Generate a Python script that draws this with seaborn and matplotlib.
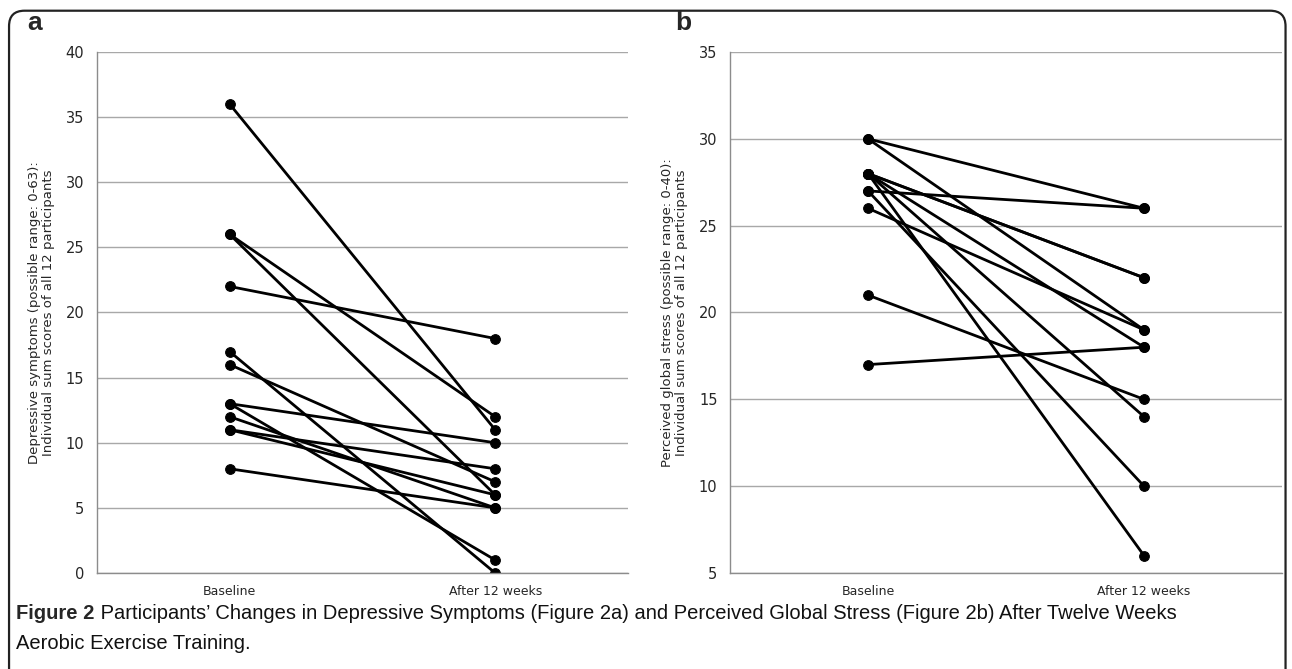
import pandas as pd
import numpy as np
import matplotlib
matplotlib.use("Agg")
import matplotlib.pyplot as plt
from matplotlib.patches import FancyBboxPatch
import seaborn as sns

# values
time_labels = ["Baseline", "After 12 weeks"]

depr_baseline = [36, 26, 26, 22, 17, 16, 13, 13, 12, 11, 11, 8]
depr_after = [11, 12, 6, 18, 0, 7, 10, 1, 5, 8, 6, 5]

stress_baseline = [30, 30, 28, 28, 28, 28, 28, 27, 27, 26, 21, 17]
stress_after = [26, 19, 22, 22, 18, 14, 6, 26, 10, 19, 15, 18]

depr_label = "Depressive symptoms (possible range: 0-63):\nIndividual sum scores of all 12 participants"
stress_label = "Perceived global stress (possible range: 0-40):\nIndividual sum scores of all 12 participants"

caption_bold = "Figure 2"
caption_rest = (" Participants\u2019 Changes in Depressive Symptoms (Figure 2a) and Perceived Global Stress (Figure 2b) After Twelve Weeks")
caption_line2 = "Aerobic Exercise Training."


def long_table(base, after):
    rows = []
    for i, (b, a) in enumerate(zip(base, after)):
        rows.append({"id": i, "time": time_labels[0], "score": b})
        rows.append({"id": i, "time": time_labels[1], "score": a})
    return pd.DataFrame(rows)


sns.set_style("white")
plt.rcParams["font.family"] = ["DejaVu Sans"]

fig = plt.figure(figsize=(12.92, 6.69), dpi=100)

grid_col = "#a8a8a8"
spine_col = "#8c8c8c"


def panel(rect, df, ylim, yticks, ylabel):
    ax = fig.add_axes(rect)
    sns.lineplot(data=df, x="time", y="score", units="id", estimator=None,
                 color="black", marker="o", markersize=7, markeredgecolor="black",
                 linewidth=2.0, sort=False, legend=False, ax=ax)
    ax.set_xlim(-0.5, 1.5)
    ax.set_ylim(*ylim)
    ax.set_yticks(yticks)
    ax.set_xticks([0, 1])
    ax.set_xticklabels(time_labels, fontsize=9)
    ax.set_xticks([-0.5, 0.5, 1.5], minor=True)
    ax.tick_params(axis="x", which="major", length=0, pad=9)
    ax.tick_params(axis="x", which="minor", length=5, color=spine_col, direction="out")
    ax.tick_params(axis="y", length=4, color=spine_col, direction="out", labelsize=10.5, pad=5)
    ax.yaxis.grid(True, color=grid_col, linewidth=1.0)
    ax.set_axisbelow(True)
    for s in ["top", "right"]:
        ax.spines[s].set_visible(False)
    for s in ["left", "bottom"]:
        ax.spines[s].set_color(spine_col)
        ax.spines[s].set_linewidth(1.0)
    ax.set_xlabel("")
    ax.set_ylabel(ylabel, fontsize=9.5, linespacing=1.1, labelpad=8)
    return ax


ax_a = panel([0.075, 0.1435, 0.411, 0.7788], long_table(depr_baseline, depr_after),
             (0, 40), range(0, 41, 5), depr_label)
ax_b = panel([0.565, 0.1435, 0.4273, 0.7788], long_table(stress_baseline, stress_after),
             (5, 35), range(5, 36, 5), stress_label)

fig.text(0.021, 0.955, "a", fontsize=19, fontweight="bold", family="Liberation Sans")
fig.text(0.523, 0.955, "b", fontsize=19, fontweight="bold", family="Liberation Sans")

# rounded frame around the figure
frame = FancyBboxPatch((0.007, -0.05), 0.988, 1.034, transform=fig.transFigure,
                       boxstyle="round,pad=0,rounding_size=0.012",
                       fill=False, edgecolor="#222222", linewidth=1.6, mutation_aspect=1.93)
fig.patches.append(frame)

cap_font = ["Liberation Sans", "DejaVu Sans"]
cap_size = 14.5
t1 = fig.text(0.0125, 0.075, caption_bold, fontsize=cap_size, fontweight="bold", family=cap_font)
fig.canvas.draw()
bb = t1.get_window_extent().transformed(fig.transFigure.inverted())
fig.text(bb.x1, 0.075, caption_rest, fontsize=cap_size, family=cap_font, color="#111111")
fig.text(0.0125, 0.03, caption_line2, fontsize=cap_size, family=cap_font, color="#111111")

fig.savefig("out.png", dpi=100)
